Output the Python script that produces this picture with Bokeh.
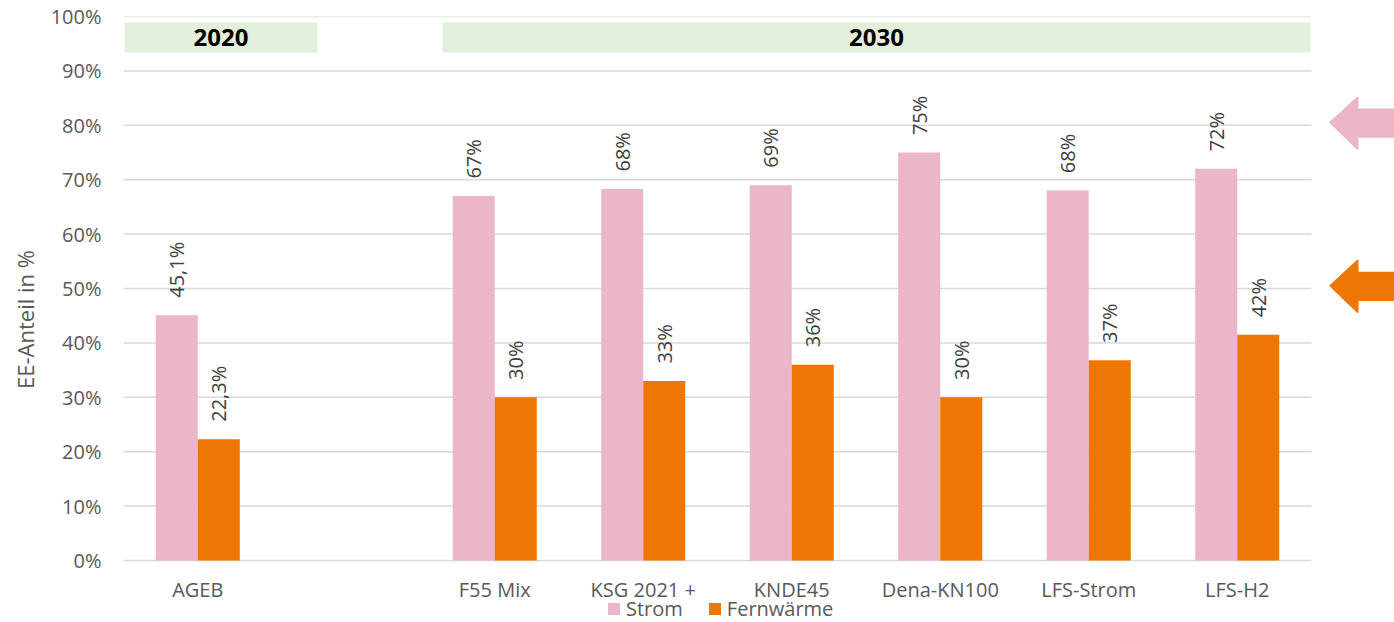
import numpy as np
from bokeh.plotting import figure
from bokeh.models import (ColumnDataSource, FixedTicker, Legend, LegendItem)
from bokeh.core.properties import value
from bokeh.embed import file_html
from bokeh.resources import INLINE

# ---------------- data ----------------
slots = ["AGEB", "", "F55 Mix", "KSG 2021 +", "KNDE45", "Dena-KN100", "LFS-Strom", "LFS-H2"]
categories = ["AGEB", "F55 Mix", "KSG 2021 +", "KNDE45", "Dena-KN100", "LFS-Strom", "LFS-H2"]
strom = [45.1, 67.0, 68.3, 69.0, 75.0, 68.0, 72.0]
fernwaerme = [22.3, 30.0, 33.0, 36.0, 30.0, 36.8, 41.5]
strom_labels = ["45,1%", "67%", "68%", "69%", "75%", "68%", "72%"]
fw_labels = ["22,3%", "30%", "33%", "36%", "30%", "37%", "42%"]
y_ticks = [0, 10, 20, 30, 40, 50, 60, 70, 80, 90, 100]
groups = ["2020", "2030"]
targets = [80, 50]  # arrows on the right: Strom, Fernwärme

PINK = "#EBB6CA"
ORANGE = "#EE7602"
GREEN = "#E2EFDA"
GRID = "#D9D9D9"
FONT = "Open Sans"

xpos = [slots.index(c) for c in categories]
bw = 0.283
src = ColumnDataSource(dict(
    x=xpos, strom=strom, fw=fernwaerme,
    xs=[x - bw / 2 for x in xpos], xf=[x + bw / 2 for x in xpos],
    sl=strom_labels, fl=fw_labels,
    sly=[v + 3.2 for v in strom], fly=[v + 3.2 for v in fernwaerme],
))

FRAME_H = 606
PX_PER_UNIT = 5.44
p = figure(width=1394, height=622, output_backend="svg", toolbar_location=None,
           x_range=(-0.5, 8.059), y_range=(100 - FRAME_H / PX_PER_UNIT, 100),
           frame_width=1271, frame_height=FRAME_H,
           min_border_left=123, min_border_right=0, min_border_top=16, min_border_bottom=0)
p.outline_line_color = None
p.xgrid.visible = False
p.ygrid.visible = False
p.background_fill_color = "white"

# grid lines
p.segment(x0=-0.5, x1=7.5, y0=y_ticks, y1=y_ticks, line_color=GRID, line_width=1.5)

# group bands
band_left = [-0.493, 1.648]
band_right = [0.806, 7.493]
p.quad(left=band_left, right=band_right, top=98.9, bottom=93.4, fill_color=GREEN, line_color=None)
p.text(x=[(a + b) / 2 for a, b in zip(band_left, band_right)], y=[96.15] * 2, text=groups,
       text_font=value(FONT), text_font_size="24px", text_font_style="bold",
       text_color="black", text_align="center", text_baseline="middle")

# bars
r_s = p.vbar(x="xs", top="strom", width=bw, source=src, fill_color=PINK, line_color=None)
r_f = p.vbar(x="xf", top="fw", width=bw, source=src, fill_color=ORANGE, line_color=None)

# value labels
p.text(x="xs", y="sly", text="sl", source=src, angle=np.pi / 2,
       text_font=value(FONT), text_font_size="20px", text_color="#404040",
       text_align="left", text_baseline="middle")
p.text(x="xf", y="fly", text="fl", source=src, angle=np.pi / 2,
       text_font=value(FONT), text_font_size="20px", text_color="#404040",
       text_align="left", text_baseline="middle")

# arrows at right
arrow_colors = [PINK, ORANGE]
for t, c in zip(targets, arrow_colors):
    xs_ = [7.628, 7.81, 7.81, 8.2, 8.2, 7.81, 7.81]
    ys_ = [t + 0.5, t + 5.1, t + 2.9, t + 2.9, t - 2.1, t - 2.1, t - 4.3]
    p.patch(xs_, ys_, fill_color=c, line_color=c, line_width=2, line_join="round")

# axes
p.yaxis.bounds = (0, 100)
p.yaxis.ticker = FixedTicker(ticks=y_ticks)
p.yaxis.major_label_overrides = {t: f"{t}%" for t in y_ticks}
p.yaxis.axis_line_color = None
p.yaxis.major_tick_line_color = None
p.yaxis.minor_tick_line_color = None
p.yaxis.major_tick_out = 0
p.yaxis.major_label_standoff = 22
p.yaxis.major_label_text_font = FONT
p.yaxis.major_label_text_font_size = "20px"
p.yaxis.major_label_text_color = "#595959"
p.yaxis.axis_label = "EE-Anteil in %"
p.yaxis.axis_label_text_font = FONT
p.yaxis.axis_label_text_font_size = "22px"
p.yaxis.axis_label_text_font_style = "normal"
p.yaxis.axis_label_text_color = "#595959"
p.yaxis.axis_label_standoff = 8

p.xaxis.fixed_location = 0
p.xaxis.ticker = FixedTicker(ticks=xpos)
p.xaxis.major_label_overrides = {x: c for x, c in zip(xpos, categories)}
p.xaxis.axis_line_color = None
p.xaxis.major_tick_line_color = None
p.xaxis.minor_tick_line_color = None
p.xaxis.major_tick_out = 0
p.xaxis.major_label_standoff = 15
p.xaxis.major_label_text_font = FONT
p.xaxis.major_label_text_font_size = "20px"
p.xaxis.major_label_text_color = "#595959"

legend = Legend(items=[LegendItem(label="Strom", renderers=[r_s]),
                       LegendItem(label="Fernwärme", renderers=[r_f])],
                orientation="horizontal", location=(483, 0),
                glyph_width=15, glyph_height=15, label_standoff=5, spacing=24,
                padding=0, margin=0, background_fill_alpha=0, border_line_color=None,
                label_text_font=FONT, label_text_font_size="20px", label_text_color="#595959",
                label_height=20)
p.add_layout(legend, "center")

open("out.html", "w").write(file_html(p, INLINE))
